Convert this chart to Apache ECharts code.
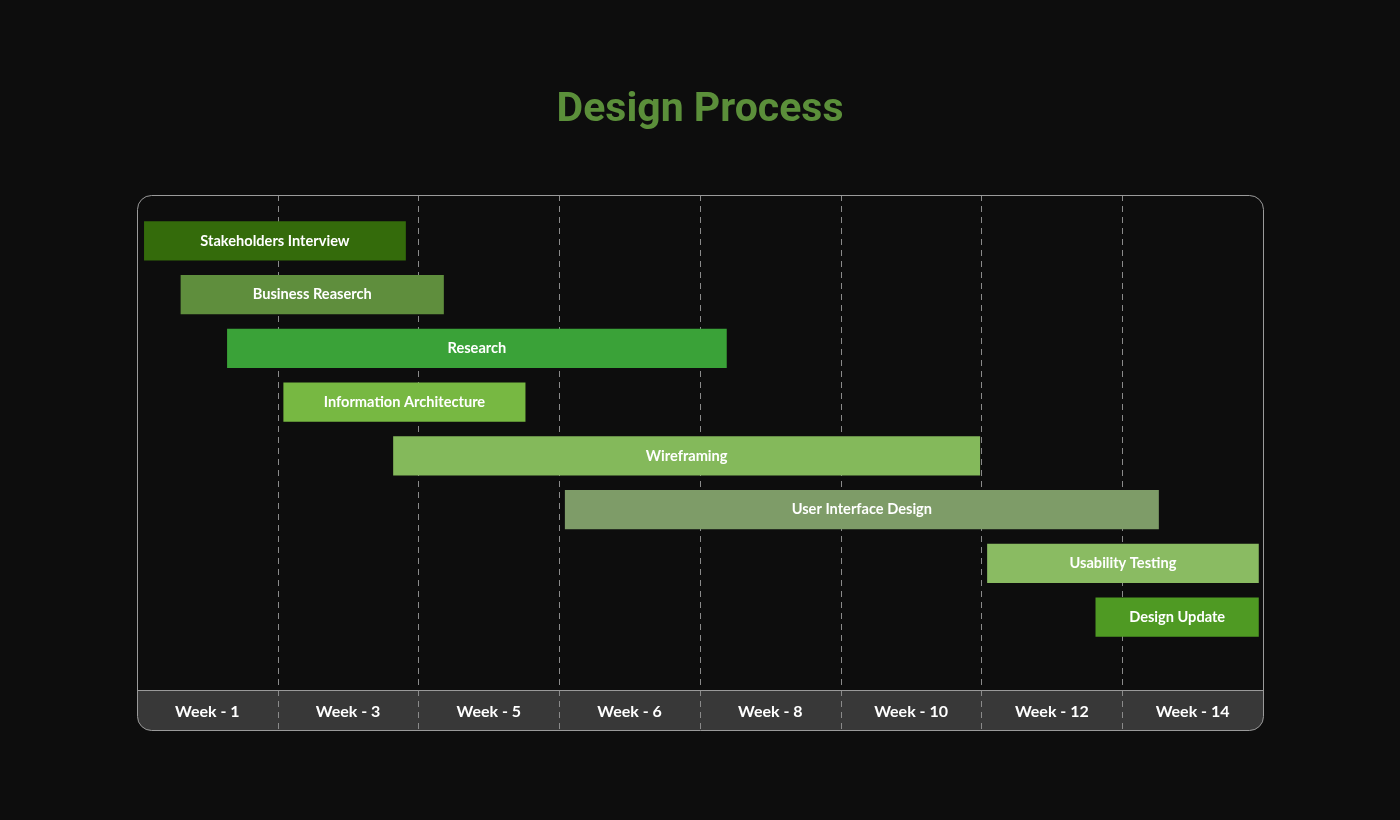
<!DOCTYPE html>
<html>
<head>
<meta charset="utf-8">
<script src="https://cdn.jsdelivr.net/npm/echarts@6/dist/echarts.min.js"></script>
<style>
  html, body { margin: 0; padding: 0; background: #0d0d0d; }
  #chart { width: 1400px; height: 820px; }
</style>
</head>
<body>
<div id="chart"></div>
<script>
// tasks, top to bottom
const tasks = ['Stakeholders Interview', 'Business Reaserch', 'Research', 'Information Architecture',
  'Wireframing', 'User Interface Design', 'Usability Testing', 'Design Update'];
// start / end measured in timeline columns (each column = one labelled week slot)
const starts = [0.05, 0.31, 0.64, 1.04, 1.82, 3.04, 6.04, 6.81];
const ends = [1.91, 2.18, 4.19, 2.76, 5.99, 7.26, 7.97, 7.97];
const weekLabels = ['Week - 1', 'Week - 3', 'Week - 5', 'Week - 6', 'Week - 8', 'Week - 10', 'Week - 12', 'Week - 14'];
const colors = ['#346b0b', '#5f8e3d', '#3aa238', '#77b842', '#84b95b', '#7e9c68', '#8abb62', '#4f9a23'];

const chart = echarts.init(document.getElementById('chart'));

const L = 137, R = 1263, T = 195, B = 730, band = 40;

const option = {
  backgroundColor: '#0d0d0d',
  title: {
    text: 'Design Process',
    left: 'center',
    top: 85,
    textStyle: { color: '#5b8f3a', fontSize: 41, fontWeight: 'bold', fontFamily: 'Roboto' }
  },
  graphic: [
    {
      type: 'rect', z: -10,
      shape: { x: L + 0.5, y: B - band + 0.5, width: R - L, height: band, r: [0, 0, 14, 14] },
      style: { fill: '#383838', stroke: null }
    },
    {
      type: 'line', z: 5,
      shape: { x1: L, y1: B - band + 0.5, x2: R, y2: B - band + 0.5 },
      style: { stroke: '#9a9a9a', lineWidth: 1 }
    },
    {
      type: 'rect', z: 5,
      shape: { x: L + 0.5, y: T + 0.5, width: R - L, height: B - T, r: 14 },
      style: { fill: 'none', stroke: '#9a9a9a', lineWidth: 1 }
    }
  ],
  grid: [
    { left: L, right: 1400 - R, top: 214, bottom: 176 },
    { left: L, right: 1400 - R, top: T, bottom: 820 - B }
  ],
  xAxis: [
    { type: 'value', gridIndex: 0, min: 0, max: 8, show: false },
    {
      type: 'category', gridIndex: 1, data: weekLabels, boundaryGap: true,
      axisLine: { show: false }, axisTick: { show: false },
      axisLabel: {
        inside: true, margin: 10, color: '#ffffff', fontSize: 16, fontWeight: 'bold', fontFamily: 'Lato'
      },
      splitLine: {
        show: true, interval: 0, showMinLine: false, showMaxLine: false,
        lineStyle: { color: '#8a8a8a', type: [6, 5], width: 1 }
      }
    }
  ],
  yAxis: [
    { type: 'category', gridIndex: 0, data: tasks, inverse: true, show: false },
    { type: 'value', gridIndex: 1, show: false }
  ],
  series: [{
    type: 'custom',
    xAxisIndex: 0,
    yAxisIndex: 0,
    data: tasks.map((t, i) => [starts[i], ends[i], i]),
    encode: { x: [0, 1], y: 2 },
    renderItem: function (params, api) {
      const i = api.value(2);
      const p0 = api.coord([api.value(0), i]);
      const p1 = api.coord([api.value(1), i]);
      const h = api.size([0, 1])[1] * 0.73;
      return {
        type: 'rect',
        shape: { x: p0[0], y: p0[1] - h / 2, width: p1[0] - p0[0], height: h },
        style: {
          fill: colors[i],
          text: tasks[i],
          textFill: '#ffffff',
          fontSize: 14.6,
          fontWeight: 'bold',
          fontFamily: 'Lato',
          textPosition: 'inside'
        }
      };
    }
  }]
};

chart.setOption(option);
</script>
</body>
</html>
